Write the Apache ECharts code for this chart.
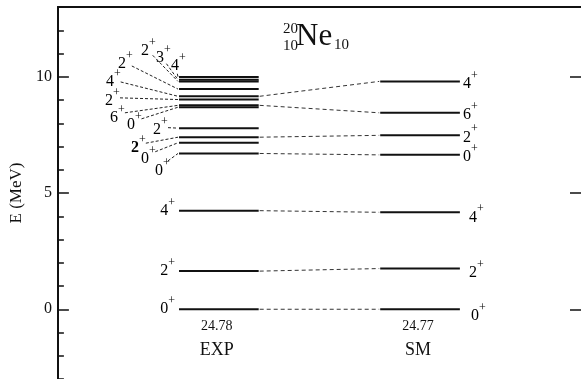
<!DOCTYPE html>
<html>
<head>
<meta charset="utf-8">
<script src="https://cdn.jsdelivr.net/npm/echarts@6/dist/echarts.min.js"></script>
<style>
  html, body { margin: 0; padding: 0; background: #fff; }
  #chart { width: 581px; height: 379px; }
</style>
</head>
<body>
<div id="chart"></div>
<script>
// Level scheme of 20Ne: experiment vs. shell model
const columns = ['EXP', 'SM'];
const columnTotals = ['24.78', '24.77'];

const expEnergy = [0, 1.64, 4.24, 6.70, 7.16, 7.40, 7.79, 8.69, 8.77, 9.02, 9.16, 9.47, 9.80, 9.87, 9.99];
const expSpin   = ['0', '2', '4', '0', '0', '2', '2', '0', '6', '2', '4', '2', '2', '3', '4'];

const smEnergy = [0, 1.75, 4.17, 6.64, 7.48, 8.45, 9.80];
const smSpin   = ['0', '2', '4', '0', '2', '6', '4'];

// [expIndex, smIndex] pairs joined by dashed lines
const links = [[0, 0], [1, 1], [2, 2], [3, 3], [5, 4], [8, 5], [10, 6]];

const yLabelValues = [0, 5, 10];

// ---- layout (not data) ----
const HALF = 0.198;          // half width of a level bar, in column units
const SERIF = "'Liberation Serif', 'Times New Roman', serif";
// crowded experimental levels get their labels fanned out to the left:
// offsets (px) of the spin digit centre from the level's left end
const fanOffsets = {
  3: [-20, 14], 4: [-34, 13], 5: [-44, 8], 6: [-22, -1], 7: [-48, 15], 8: [-65, 9],
  9: [-70, -2], 10: [-69, -17], 11: [-57, -28], 12: [-34, -34], 13: [-19, -25], 14: [-4, -14]
};
const boldSpin = { 5: true };
// small nudges (px) of the shell-model labels to the right of their bars
const smLabelNudge = { 0: [8, 5], 1: [6, 2], 2: [6, 3] };

const levels = [];
expEnergy.forEach((e, i) => levels.push({ col: 1, e, spin: expSpin[i], side: 'left', idx: i }));
smEnergy.forEach((e, i) => levels.push({ col: 2, e, spin: smSpin[i], side: 'right', idx: i }));

const rich = {
  d: { fontFamily: SERIF, fontSize: 16, lineHeight: 22, color: '#111', verticalAlign: 'bottom' },
  db: { fontFamily: SERIF, fontSize: 16, lineHeight: 22, color: '#111', fontWeight: 'bold', verticalAlign: 'bottom' },
  p: { fontFamily: SERIF, fontSize: 12, lineHeight: 12, color: '#111', verticalAlign: 'top' }
};

function spinText(spin, bold) {
  return '{' + (bold ? 'db' : 'd') + '|' + spin + '}{p|+}';
}

function renderLevel(params, api) {
  const lv = levels[params.dataIndex];
  const a = api.coord([lv.col - HALF, lv.e]);
  const b = api.coord([lv.col + HALF, lv.e]);
  const children = [{
    type: 'line',
    shape: { x1: a[0], y1: a[1], x2: b[0], y2: b[1] },
    style: { stroke: '#111', lineWidth: 2 }
  }];
  if (lv.side === 'right') {
    const n = smLabelNudge[lv.idx] || [0, 0];
    children.push({
      type: 'text',
      style: { text: spinText(lv.spin), rich, x: b[0] + 3 + n[0], y: a[1] - 1 + n[1], align: 'left', verticalAlign: 'middle' }
    });
  } else if (fanOffsets[lv.idx]) {
    const off = fanOffsets[lv.idx];
    const cx = a[0] + off[0], cy = a[1] + off[1];
    const tx = a[0] - 1, ty = a[1];
    const dx = tx - cx, dy = ty - cy, len = Math.hypot(dx, dy);
    const r = 11;
    if (len > r + 2) {
      children.push({
        type: 'line',
        shape: { x1: cx + dx / len * r, y1: cy + dy / len * r, x2: tx, y2: ty },
        style: { stroke: '#222', lineWidth: 1, lineDash: [3, 2] }
      });
    }
    children.push({
      type: 'text',
      style: { text: spinText(lv.spin, boldSpin[lv.idx]), rich, x: cx - 4, y: cy, align: 'left', verticalAlign: 'middle' }
    });
  } else {
    children.push({
      type: 'text',
      style: { text: spinText(lv.spin), rich, x: a[0] - 4, y: a[1] - 3, align: 'right', verticalAlign: 'middle' }
    });
  }
  return { type: 'group', children };
}

function renderLink(params, api) {
  const lk = links[params.dataIndex];
  const p = api.coord([1 + HALF, expEnergy[lk[0]]]);
  const q = api.coord([2 - HALF, smEnergy[lk[1]]]);
  return {
    type: 'line',
    shape: { x1: p[0] + 1, y1: p[1], x2: q[0] - 1, y2: q[1] },
    style: { stroke: '#333', lineWidth: 1, lineDash: [4, 3] }
  };
}

function renderColumn(params, api) {
  const i = params.dataIndex;
  const base = api.coord([i + 1, 0]);
  return {
    type: 'group',
    children: [
      { type: 'text', style: { text: columnTotals[i], x: base[0] - 2, y: base[1] + 17, align: 'center', verticalAlign: 'middle', font: '14px ' + SERIF, fill: '#111' } },
      { type: 'text', style: { text: columns[i], x: base[0] - 2, y: base[1] + 41, align: 'center', verticalAlign: 'middle', font: '18px ' + SERIF, fill: '#111' } }
    ]
  };
}

const chart = echarts.init(document.getElementById('chart'), null, { renderer: 'canvas' });

const yBase = { type: 'value', min: -3, max: 13, splitLine: { show: false } };

chart.setOption({
  animation: false,
  backgroundColor: '#fff',
  grid: { left: 54, width: 532, top: 7, height: 374, containLabel: false },
  xAxis: {
    type: 'value', min: 0.2, max: 2.8, position: 'top',
    axisLine: { show: true, onZero: false, lineStyle: { color: '#111', width: 2 } },
    axisTick: { show: false }, axisLabel: { show: false }, splitLine: { show: false }
  },
  yAxis: [
    Object.assign({}, yBase, {
      position: 'left', interval: 1,
      name: 'E (MeV)', nameLocation: 'middle', nameGap: 30, nameRotate: 90,
      nameTextStyle: { fontFamily: SERIF, fontSize: 17, color: '#111' },
      axisLine: { show: true, onZero: false, lineStyle: { color: '#111', width: 2 } },
      axisTick: { show: true, inside: true, length: 6, lineStyle: { color: '#111', width: 1.5 } },
      axisLabel: { customValues: yLabelValues, fontFamily: SERIF, fontSize: 16, color: '#111', margin: 6 }
    }),
    Object.assign({}, yBase, {
      position: 'left',
      axisLine: { show: false, onZero: false },
      axisTick: { show: true, inside: true, length: 11, customValues: yLabelValues, lineStyle: { color: '#111', width: 1.5 } },
      axisLabel: { show: false }
    }),
    Object.assign({}, yBase, {
      position: 'right',
      axisLine: { show: false, onZero: false },
      axisTick: { show: true, inside: true, length: 11, customValues: yLabelValues, lineStyle: { color: '#111', width: 1.5 } },
      axisLabel: { show: false }
    })
  ],
  graphic: [
    { type: 'text', left: 283, top: 22, style: { text: '20', font: '15px ' + SERIF, fill: '#111' } },
    { type: 'text', left: 283, top: 39, style: { text: '10', font: '15px ' + SERIF, fill: '#111' } },
    { type: 'text', left: 296, top: 21, style: { text: 'Ne', font: '31px ' + SERIF, fill: '#111' } },
    { type: 'text', left: 334, top: 38, style: { text: '10', font: '15px ' + SERIF, fill: '#111' } }
  ],
  series: [
    { type: 'custom', renderItem: renderLink, data: links.map((l, i) => [i]), clip: false, z: 1 },
    { type: 'custom', renderItem: renderLevel, data: levels.map(l => [l.col, l.e]), clip: false, z: 2 },
    { type: 'custom', renderItem: renderColumn, data: columns.map((c, i) => [i + 1, 0]), clip: false, z: 2 }
  ]
});
</script>
</body>
</html>
